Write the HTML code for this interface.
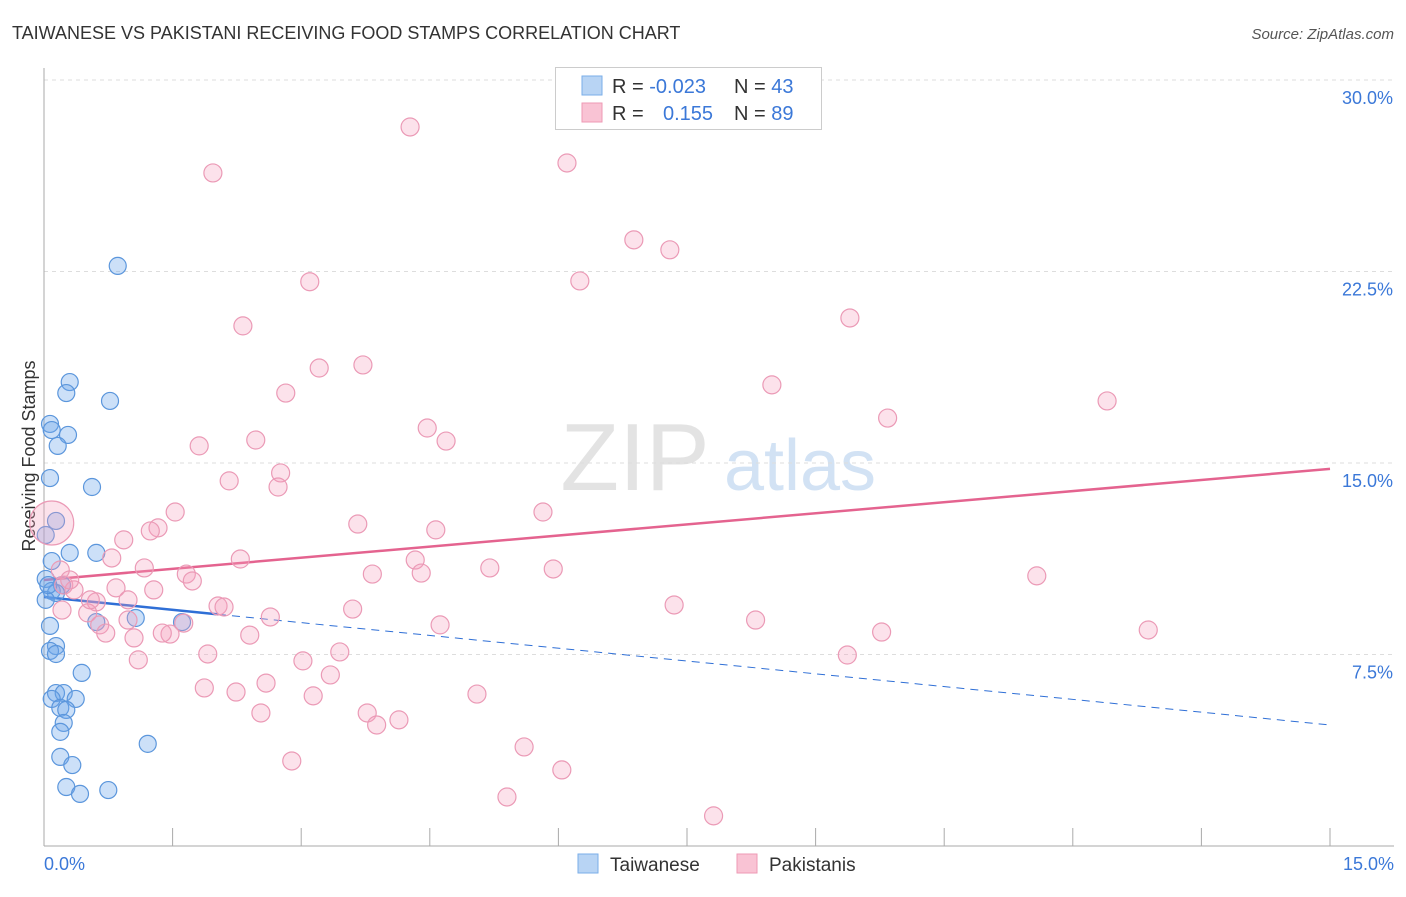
<!DOCTYPE html>
<html><head><meta charset="utf-8"><style>
body{margin:0;background:#fff;font-family:"Liberation Sans",sans-serif;}
svg text{font-family:"Liberation Sans",sans-serif;}
</style></head><body>
<svg id="chart" width="1406" height="892">
<text x="12" y="39" font-size="18" fill="#333">TAIWANESE VS PAKISTANI RECEIVING FOOD STAMPS CORRELATION CHART</text>
<text x="1394" y="39" font-size="15" fill="#555" font-style="italic" text-anchor="end">Source: ZipAtlas.com</text>
<text x="35" y="456" font-size="18" fill="#333" text-anchor="middle" transform="rotate(-90 35 456)">Receiving Food Stamps</text>
<g><text x="635" y="490" font-size="96" fill="#ddd" font-family="Liberation Serif" text-anchor="middle" opacity="0.8">ZIP</text><text x="800" y="490" font-size="72" fill="#c8dcf2" text-anchor="middle" opacity="0.8">atlas</text></g>
<g id="grid"></g><g id="axes"></g><g id="lines"></g><g id="pts"></g>
<g>
<rect x="555.5" y="67.5" width="266" height="62" fill="#fff" stroke="#ccc"/>
<rect x="582" y="76" width="20" height="19" fill="#b8d4f4" stroke="#7aaee8"/>
<rect x="582" y="103" width="20" height="19" fill="#f9c3d4" stroke="#ee99b4"/>
<text x="612" y="93" font-size="20" fill="#333">R = <tspan fill="#3b78d8">-0.023</tspan></text>
<text x="734" y="93" font-size="20" fill="#333">N = <tspan fill="#3b78d8">43</tspan></text>
<text x="612" y="120" font-size="20" fill="#333">R = </text><text x="663" y="120" font-size="20" fill="#3b78d8">0.155</text>
<text x="734" y="120" font-size="20" fill="#333">N = <tspan fill="#3b78d8">89</tspan></text>
</g>
<g>
<rect x="578" y="854" width="20" height="19" fill="#b8d4f4" stroke="#7aaee8"/>
<text x="610" y="871" font-size="19" fill="#333">Taiwanese</text>
<rect x="737" y="854" width="20" height="19" fill="#f9c3d4" stroke="#ee99b4"/>
<text x="769" y="871" font-size="19" fill="#333">Pakistanis</text>
</g>
</svg>
<script>
const blueX=[0.86,0.30,0.26,0.77,0.07,0.09,0.28,0.16,0.56,0.07,0.14,0.02,0.30,0.61,0.09,0.02,0.21,0.09,0.14,1.07,0.61,1.61,0.07,0.14,0.07,0.14,0.44,0.14,0.23,0.09,0.37,0.19,0.26,0.23,0.19,1.21,0.19,0.33,0.26,0.42,0.75,0.02,0.05];
const blueY=[22.72,18.17,17.74,17.43,16.53,16.29,16.10,15.67,14.06,14.41,12.73,12.18,11.48,11.48,11.16,10.46,10.22,9.99,9.91,8.93,8.77,8.77,8.62,7.83,7.64,7.52,6.78,5.99,5.99,5.76,5.76,5.41,5.33,4.82,4.47,4.00,3.49,3.17,2.31,2.04,2.19,9.64,10.22];
const pinkX=[4.27,6.10,1.97,6.88,7.30,3.10,6.25,2.32,9.40,3.21,3.72,2.82,8.49,12.40,4.47,9.84,4.69,1.81,2.47,2.16,2.76,2.73,1.53,3.66,5.82,4.57,1.33,1.24,2.29,0.79,0.93,4.33,1.17,5.20,5.94,3.83,4.40,11.58,1.66,1.73,0.23,0.09,0.84,1.28,0.35,0.61,2.03,2.10,7.35,3.60,2.64,0.51,0.21,0.98,1.63,0.65,8.30,4.62,12.88,9.77,0.72,1.05,1.47,2.40,1.38,1.91,3.45,1.10,3.02,9.37,3.34,2.59,1.87,2.24,3.14,5.05,3.77,2.53,4.14,3.88,2.89,5.60,6.04,5.40,7.81,0.19,0.30,0.54,0.98];
const pinkY=[28.16,26.75,26.36,23.74,23.35,22.10,22.13,20.37,20.68,18.72,18.84,17.74,18.06,17.43,16.37,16.76,15.86,15.67,15.90,14.30,14.61,14.06,13.08,12.61,13.08,12.38,12.46,12.34,11.24,11.28,11.99,11.20,10.89,10.89,10.85,10.65,10.69,10.58,10.65,10.38,10.22,12.65,10.11,10.03,10.03,9.56,9.40,9.36,9.44,9.28,8.97,9.13,9.24,8.85,8.73,8.66,8.85,8.66,8.46,8.38,8.34,8.15,8.30,8.26,8.34,7.52,7.60,7.29,7.25,7.48,6.70,6.38,6.19,6.03,5.88,5.95,5.21,5.21,4.94,4.74,3.33,3.88,2.98,1.92,1.18,10.81,10.42,9.64,9.64];
const pinkR=pinkX.map((v,i)=>i===41?22:9);
const yTicks=[7.5,15,22.5,30];
const yTickLabels=["7.5%","15.0%","22.5%","30.0%"];
const xTickCount=10;
const pinkTrend=[10.42,14.77];
const blueTrend=[9.75,4.74];
const blueSolidEnd=2.03;
const NS="http://www.w3.org/2000/svg";
const X0=44,X1=1330,Y0=846,YTOP=80;
const sx=v=>X0+v/15*(X1-X0);
const sy=v=>Y0-v/30*(Y0-YTOP);
function mk(tag,attrs,parent){const e=document.createElementNS(NS,tag);for(const k in attrs)e.setAttribute(k,attrs[k]);document.getElementById(parent).appendChild(e);return e;}
yTicks.forEach((t,i)=>{
 const l=mk('line',{x1:X0,x2:1394,y1:sy(t),y2:sy(t),stroke:'#ddd','stroke-dasharray':'4,4'},'grid');
 
 
 const tx=mk('text',{x:1393,y:sy(t)+24,'font-size':18,fill:'#3b78d8','text-anchor':'end'},'grid');
 tx.textContent=yTickLabels[i];
 
 
});
const ya=mk('line',{x1:X0,x2:X0,y1:68,y2:846,stroke:'#aaa'},'axes');


const xa=mk('line',{x1:X0,x2:1394,y1:846,y2:846,stroke:'#aaa'},'axes');


for(let i=1;i<=xTickCount;i++){const v=15*i/xTickCount;const t=mk('line',{x1:sx(v),x2:sx(v),y1:828,y2:846,stroke:'#aaa'},'axes');
 
 }
const xl0=mk('text',{x:44,y:870,'font-size':18,fill:'#3b78d8'},'axes');xl0.textContent='0.0%';


const xl1=mk('text',{x:1394,y:870,'font-size':18,fill:'#3b78d8','text-anchor':'end'},'axes');xl1.textContent='15.0%';


blueX.forEach((x,i)=>{const c=mk('circle',{cx:sx(x),cy:sy(blueY[i]),r:8.5,fill:'rgba(110,165,235,0.35)',stroke:'#5b96dc','stroke-width':1.2},'pts');
 
 });
pinkX.forEach((x,i)=>{const c=mk('circle',{cx:sx(x),cy:sy(pinkY[i]),r:pinkR[i],fill:'rgba(244,160,190,0.3)',stroke:'#eb9ab6','stroke-width':1.2},'pts');
 
 });
const bAt=v=>blueTrend[0]+(blueTrend[1]-blueTrend[0])*v/15;
const pl=mk('line',{x1:sx(0),y1:sy(pinkTrend[0]),x2:sx(15),y2:sy(pinkTrend[1]),stroke:'#e4638f','stroke-width':2.5},'lines');


const bl=mk('line',{x1:sx(0),y1:sy(bAt(0)),x2:sx(blueSolidEnd),y2:sy(bAt(blueSolidEnd)),stroke:'#2f6fd6','stroke-width':2.5},'lines');


const bd=mk('line',{x1:sx(blueSolidEnd),y1:sy(bAt(blueSolidEnd)),x2:sx(15),y2:sy(bAt(15)),stroke:'#2f6fd6','stroke-width':1,'stroke-dasharray':'8,6'},'lines');


</script>
</body></html>
